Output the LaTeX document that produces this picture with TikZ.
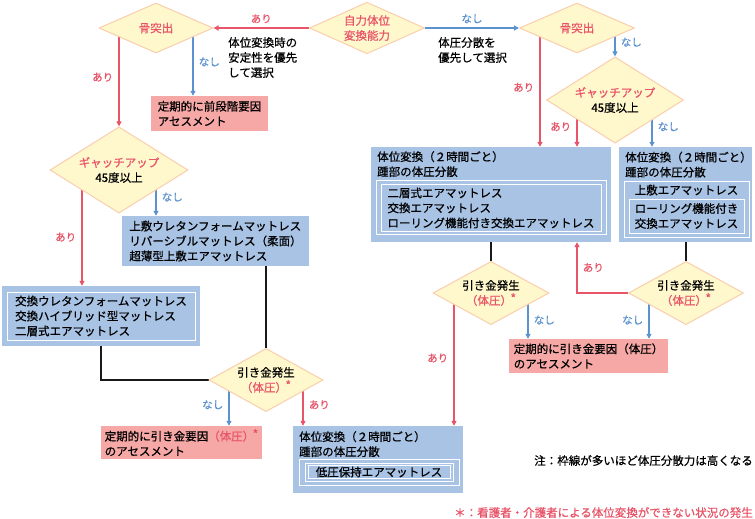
\documentclass[tikz,border=0pt]{standalone}
\usepackage{fontspec}
\setmainfont[FakeBold=0.6]{Noto Sans CJK JP}
\usetikzlibrary{shapes.geometric,arrows.meta,backgrounds}

\definecolor{arired}{RGB}{232,84,104}
\definecolor{nashiblue}{RGB}{92,146,206}
\definecolor{boxblue}{RGB}{168,195,228}
\definecolor{boxpink}{RGB}{245,168,166}
\definecolor{diafill}{RGB}{255,248,205}
\definecolor{diaedge}{RGB}{250,206,172}

\newcommand{\pmark}{\kern-1.5pt\raisebox{2pt}{\fontsize{12}{12}\selectfont *}}

\begin{document}
\begin{tikzpicture}[x=1pt,y=-1pt,
    font=\fontsize{11.5}{15}\selectfont,
    dia/.style={diamond,draw=diaedge,fill=diafill,line width=1pt,inner xsep=-10pt,inner ysep=0pt,align=center},
    bluebox/.style={rectangle,fill=boxblue,inner sep=0pt,align=left},
    pinkbox/.style={rectangle,fill=boxpink,inner sep=0pt,align=left},
    wframe/.style={rectangle,draw=white,line width=0.8pt,inner sep=0pt,align=left},
    yes/.style={draw=arired,line width=1.6pt,-{Triangle[length=5pt,width=5pt]}},
    no/.style={draw=nashiblue,line width=1.6pt,-{Triangle[length=5pt,width=5pt]}},
    link/.style={draw=black!90,line width=1.6pt},
    ari/.style={text=arired,font=\fontsize{10.5}{12}\selectfont,inner sep=2pt},
    nashi/.style={text=nashiblue,font=\fontsize{10.5}{12}\selectfont,inner sep=2pt}]
\useasboundingbox (0,0) rectangle (755,519);

% decisions
\node[dia,minimum width=115,minimum height=50,text=arired] (ability) at (367,28) {自力体位\\変換能力};
\node[dia,minimum width=114,minimum height=50,text=arired] (bone1) at (156,28) {骨突出};
\node[dia,minimum width=115,minimum height=50,text=arired] (bone2) at (577,28) {骨突出};
\node[dia,minimum width=138,minimum height=51] (gatch1) at (119,170) {\textcolor{arired}{ギャッチアップ}\\45度以上};
\node[dia,minimum width=137,minimum height=51] (gatch2) at (615,100) {\textcolor{arired}{ギャッチアップ}\\45度以上};
\node[dia,minimum width=114,minimum height=51] (trig1) at (266,380) {引き金発生\\\textcolor{arired}{（体圧）\pmark}};
\node[dia,minimum width=116,minimum height=51] (trig2) at (491,293) {引き金発生\\\textcolor{arired}{（体圧）\pmark}};
\node[dia,minimum width=115,minimum height=51] (trig3) at (686,293) {引き金発生\\\textcolor{arired}{（体圧）\pmark}};

% mattresses, left side
\node[bluebox,minimum width=187,minimum height=50] (mat1) at (215.5,241) {上敷ウレタンフォームマットレス\\リバーシブルマットレス（柔面）\\超薄型上敷エアマットレス};
\node[bluebox,minimum width=198,minimum height=60] (mat2) at (101,316) {};
\node[wframe,minimum width=188,minimum height=48] (mat2list) at (101,316) {交換ウレタンフォームマットレス\\交換ハイブリッド型マットレス\\二層式エアマットレス};

% position change boxes
\node[bluebox,minimum width=240,minimum height=95] (pos1) at (491,194.5) {};
\node[anchor=north west,align=left,inner sep=0pt] (pos1head) at (377,151) {体位変換（２時間ごと）\\踵部の体圧分散};
\node[wframe,minimum width=230,minimum height=54] (pos1frame) at (491,207) {};
\node[wframe,minimum width=220,minimum height=47] (pos1list) at (491,208) {二層式エアマットレス\\交換エアマットレス\\ローリング機能付き交換エアマットレス};

\node[bluebox,minimum width=133,minimum height=95] (pos2) at (685.5,194.5) {};
\node[anchor=north west,align=left,inner sep=0pt] (pos2head) at (625,151.5) {体位変換（２時間ごと）\\踵部の体圧分散};
\node[wframe,minimum width=125,minimum height=56] (pos2frame) at (686.5,209) {};
\node[inner sep=0pt] (pos2top) at (686.5,190) {上敷エアマットレス};
\node[wframe,minimum width=115,minimum height=34] (pos2list) at (686.5,216) {ローリング機能付き\\交換エアマットレス};

\node[bluebox,minimum width=170,minimum height=67] (pos3) at (378,459.5) {};
\node[anchor=north west,align=left,inner sep=0pt] (pos3head) at (299,431) {体位変換（２時間ごと）\\踵部の体圧分散};
\node[wframe,minimum width=160,minimum height=26] (pos3frame) at (379,472) {};
\node[wframe,minimum width=148,minimum height=18] (pos3mid) at (379,472) {};
\node[wframe,minimum width=142,minimum height=12.5] (pos3list) at (379,472) {低圧保持エアマットレス};

% assessments
\node[pinkbox,minimum width=117,minimum height=35] (pink1) at (209.5,113.5) {定期的に前段階要因\\アセスメント};
\node[pinkbox,minimum width=159,minimum height=34] (pink2) at (588.5,356) {定期的に引き金要因（体圧）\\のアセスメント};
\node[pinkbox,minimum width=161,minimum height=33] (pink3) at (181.5,442.5) {定期的に引き金要因\textcolor{arired}{（体圧）\pmark}\\のアセスメント};

% notes
\node[anchor=north west,align=left,inner sep=0pt] (stable) at (228,37) {体位変換時の\\安定性を優先\\して選択};
\node[anchor=north west,align=left,inner sep=0pt] (spread) at (438,37) {体圧分散を\\優先して選択};
\node[anchor=north east,inner sep=0pt] (framenote) at (753,455) {注：枠線が多いほど体圧分散力は高くなる};
\node[anchor=north east,inner sep=0pt,text=arired] (starnote) at (753,507) {＊：看護者・介護者による体位変換ができない状況の発生};

\begin{scope}[on background layer]
\draw[yes] (ability.west) -- (bone1.east) node[ari,midway,above=2pt] (a1) {あり};
\draw[no] (ability.east) -- (bone2.west) node[nashi,midway,above=2pt] (n1) {なし};
% left branch
\draw[yes] (gatch1.north |- bone1.center) -- (gatch1.north) node[ari,midway,left=3pt] (a2) {あり};
\draw[no] ([xshift=37pt]bone1.center) -- ([xshift=37pt]bone1.center |- pink1.north) node[nashi,midway,right=3pt] (n2) {なし};
\draw[yes] ([xshift=-37pt]gatch1.center) -- ([xshift=-37pt]gatch1.center |- mat2.north) node[ari,pos=.58,left=3pt] (a3) {あり};
\draw[no] ([xshift=37pt]gatch1.center) -- ([xshift=37pt]gatch1.center |- mat1.north) node[nashi,pos=.59,right=3pt] (n3) {なし};
\draw[link] (trig1.north |- mat1.south) -- (trig1.north);
\draw[link] (mat2.south) |- (trig1.west);
\draw[no] ([xshift=-37pt]trig1.center) -- ([xshift=-37pt]trig1.center |- pink3.north) node[nashi,pos=.54,left=3pt] (n4) {なし};
\draw[yes] ([xshift=37pt]trig1.center) -- ([xshift=37pt]trig1.center |- pos3.north) node[ari,pos=.54,right=3pt] (a4) {あり};
% right branch
\draw[yes] ([xshift=-37pt]bone2.center) -- ([xshift=-37pt]bone2.center |- pos1.north) node[ari,midway,left=3pt] (a5) {あり};
\draw[no] (gatch2.north |- bone2.center) -- (gatch2.north) node[nashi,midway,right=3pt] (n5) {なし};
\draw[yes] ([xshift=-38pt]gatch2.center) -- ([xshift=-38pt]gatch2.center |- pos1.north) node[ari,pos=.57,left=3pt] (a6) {あり};
\draw[no] ([xshift=37pt]gatch2.center) -- ([xshift=37pt]gatch2.center |- pos2.north) node[nashi,pos=.57,right=3pt] (n6) {なし};
\draw[link] (pos1.south) -- (trig2.north);
\draw[link] (trig3.north |- pos2.south) -- (trig3.north);
\draw[yes] ([xshift=-37pt]trig2.center) -- ([xshift=-37pt]trig2.center |- pos3.north) node[ari,pos=.49,left=3pt] (a7) {あり};
\draw[no] ([xshift=37pt]trig2.center) -- ([xshift=37pt]trig2.center |- pink2.north) node[nashi,pos=.59,right=3pt] (n7) {なし};
\draw[yes] (trig3.west) -| ([xshift=86pt]pos1.south) node[ari,pos=.75,right=3pt] (a8) {あり};
\draw[no] ([xshift=-37pt]trig3.center) -- ([xshift=-37pt]trig3.center |- pink2.north) node[nashi,pos=.59,left=3pt] (n8) {なし};
\end{scope}
\end{tikzpicture}
\end{document}
